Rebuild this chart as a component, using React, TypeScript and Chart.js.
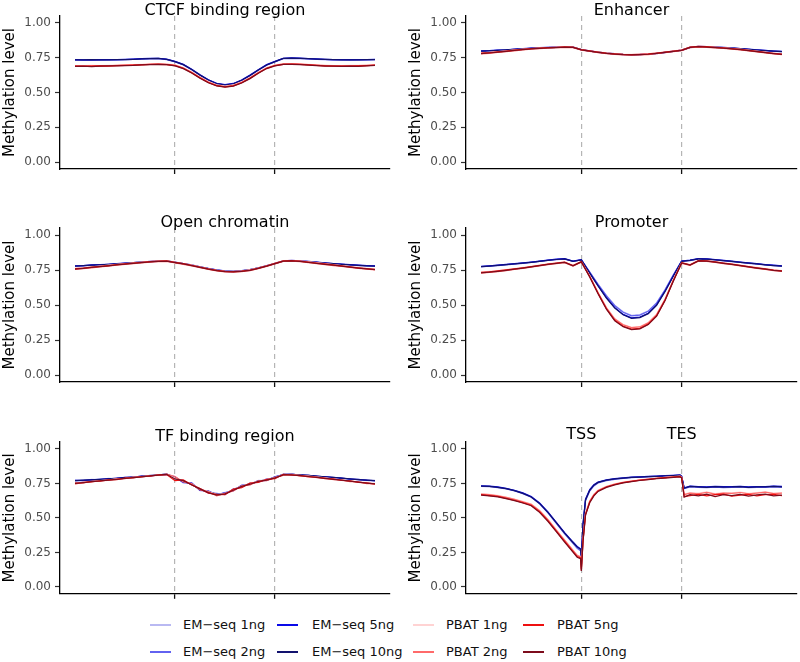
import React, { useEffect, useRef } from "react";
import { Chart, registerables } from "chart.js";

Chart.register(...registerables);

const FONT_FAMILY = "'DejaVu Sans', 'Liberation Sans', Arial, sans-serif";

// ---------- series ----------
const seriesLabels = [
  "EM\u2212seq 1ng", "EM\u2212seq 2ng", "EM\u2212seq 5ng", "EM\u2212seq 10ng",
  "PBAT 1ng", "PBAT 2ng", "PBAT 5ng", "PBAT 10ng",
];
const seriesColors = [
  "#b9b9f2", "#6262f0", "#0a0ae8", "#12126e",
  "#ffd3d3", "#ff6a6a", "#ee1010", "#7d0c1c",
];

// ---------- x positions (bins) ----------
const regionBins = [0, 1, 2, 3, 4, 5, 6, 7, 8, 9, 10, 11, 12, 13, 14, 15, 16, 17, 18, 19, 20, 21, 22, 23, 24, 25, 26, 27, 28, 29, 30, 31, 32, 33, 34, 35, 36];
const geneBins = [0, 1, 2, 3, 4, 5, 6, 7, 8, 9, 10, 11, 11.5, 11.9, 12, 12.2, 12.5, 13, 13.5, 14, 15, 16, 17, 18, 19, 20, 21, 22, 23, 23.8, 24, 24.3, 25, 26, 27, 28, 29, 30, 31, 32, 33, 34, 35, 36];
const boundaryBins = [12, 24];
const geneBoundaryLabels = ["TSS", "TES"];
const yTickValues = [0, 0.25, 0.5, 0.75, 1];
const yAxisTitle = "Methylation level";

// ---------- CTCF binding region ----------
const ctcfEm1 = [.736,.734,.735,.735,.736,.735,.737,.739,.742,.744,.745,.739, .723,.701,.667,.627,.592,.565,.555,.563,.589,.623,.663,.699,.723, .745,.747,.745,.742,.740,.738,.736,.735,.735,.735,.736,.737];
const ctcfEm2 = [.733,.733,.734,.733,.734,.735,.736,.738,.740,.742,.743,.737, .720,.698,.663,.624,.589,.562,.553,.561,.587,.620,.660,.696,.720, .743,.746,.744,.741,.739,.737,.735,.734,.733,.734,.735,.736];
const ctcfEm5 = [.737,.735,.735,.736,.736,.737,.738,.740,.743,.745,.746,.740, .724,.702,.667,.628,.592,.566,.556,.565,.590,.625,.664,.700,.724, .746,.749,.747,.744,.741,.739,.737,.736,.736,.736,.737,.738];
const ctcfEm10 = [.735,.734,.736,.734,.735,.736,.737,.739,.741,.744,.745,.738, .722,.700,.665,.625,.590,.563,.553,.562,.588,.622,.662,.698,.722, .745,.748,.746,.743,.740,.738,.736,.735,.734,.735,.736,.737];
const ctcfPb1 = [.694,.693,.695,.694,.695,.697,.698,.700,.703,.705,.707,.705, .698,.679,.648,.611,.578,.555,.546,.554,.576,.608,.646,.679,.698, .707,.708,.706,.702,.699,.696,.694,.694,.695,.695,.697,.699];
const ctcfPb2 = [.692,.691,.692,.693,.692,.695,.696,.698,.701,.703,.705,.703, .696,.676,.645,.608,.575,.552,.543,.551,.573,.605,.643,.676,.696, .705,.706,.704,.700,.697,.694,.692,.692,.692,.693,.695,.697];
const ctcfPb5 = [.690,.688,.690,.691,.689,.693,.695,.697,.699,.702,.703,.701, .694,.674,.642,.605,.572,.549,.540,.548,.570,.602,.640,.674,.694, .703,.704,.702,.698,.695,.692,.690,.690,.689,.691,.693,.696];
const ctcfPb10 = [.688,.690,.686,.689,.691,.692,.694,.695,.698,.700,.702,.700, .692,.672,.640,.603,.570,.547,.538,.546,.568,.600,.638,.672,.692, .702,.703,.700,.697,.694,.690,.689,.687,.690,.688,.692,.695];

// ---------- Enhancer ----------
const enhEm1 = [.798,.801,.804,.806,.810,.814,.818,.821,.824,.826,.827,.826, .808,.799,.790,.783,.778,.774,.772,.774,.776,.781,.788,.796,.804, .824,.830,.829,.826,.823,.819,.815,.810,.806,.802,.798,.795];
const enhEm2 = [.796,.799,.802,.805,.809,.813,.817,.820,.822,.824,.826,.825, .807,.797,.789,.782,.777,.773,.771,.772,.775,.780,.787,.795,.803, .823,.829,.828,.825,.822,.818,.814,.809,.804,.800,.796,.793];
const enhEm5 = [.799,.801,.805,.807,.811,.815,.819,.822,.824,.826,.828,.827, .809,.799,.791,.784,.779,.775,.773,.774,.777,.782,.789,.797,.805, .825,.831,.830,.827,.824,.820,.816,.811,.806,.802,.798,.795];
const enhEm10 = [.797,.800,.803,.806,.810,.814,.818,.821,.823,.825,.827,.826, .808,.798,.790,.783,.778,.774,.772,.773,.776,.781,.788,.796,.804, .824,.830,.829,.826,.823,.819,.815,.810,.805,.801,.797,.794];
const enhPb1 = [.785,.789,.794,.800,.806,.811,.816,.820,.823,.826,.829,.827, .809,.800,.792,.785,.780,.776,.774,.776,.779,.784,.791,.799,.806, .827,.832,.830,.826,.822,.817,.811,.804,.797,.790,.784,.778];
const enhPb2 = [.778,.781,.788,.794,.800,.806,.811,.815,.819,.822,.824,.823, .804,.795,.787,.780,.774,.770,.768,.770,.773,.779,.786,.794,.801, .822,.827,.825,.821,.817,.812,.806,.799,.792,.785,.778,.772];
const enhPb5 = [.783,.786,.792,.798,.804,.810,.815,.819,.822,.825,.828,.826, .808,.799,.791,.783,.778,.774,.772,.774,.777,.783,.790,.798,.805, .826,.831,.829,.825,.821,.816,.810,.803,.796,.789,.782,.776];
const enhPb10 = [.780,.784,.790,.796,.802,.808,.813,.817,.820,.823,.826,.825, .806,.797,.789,.781,.776,.772,.770,.772,.775,.781,.788,.796,.803, .824,.829,.827,.823,.819,.814,.808,.801,.794,.787,.780,.774];

// ---------- Open chromatin ----------
const openEm1 = [.779,.782,.785,.787,.791,.795,.798,.802,.807,.810,.813,.815, .805,.796,.785,.772,.761,.750,.743,.741,.744,.752,.765,.780,.797, .815,.817,.815,.810,.806,.800,.796,.791,.788,.784,.781,.779];
const openEm2 = [.777,.780,.783,.786,.789,.793,.797,.801,.805,.809,.812,.814, .804,.794,.784,.771,.759,.749,.741,.739,.743,.751,.764,.779,.796, .814,.816,.813,.809,.804,.799,.794,.790,.786,.782,.779,.777];
const openEm5 = [.780,.782,.786,.788,.791,.795,.799,.803,.807,.811,.814,.816, .806,.796,.786,.773,.761,.751,.743,.741,.745,.753,.766,.781,.798, .816,.818,.815,.811,.806,.801,.796,.792,.788,.785,.782,.780];
const openEm10 = [.778,.781,.784,.787,.790,.794,.798,.802,.806,.810,.813,.815, .805,.795,.785,.772,.760,.750,.742,.740,.744,.752,.765,.780,.797, .815,.817,.814,.810,.805,.800,.795,.791,.787,.783,.780,.778];
const openPb1 = [.762,.767,.772,.778,.784,.790,.796,.801,.806,.811,.815,.817, .806,.796,.786,.772,.760,.750,.742,.740,.744,.752,.765,.781,.799, .817,.819,.815,.809,.802,.795,.788,.781,.774,.768,.762,.757];
const openPb2 = [.755,.760,.766,.772,.778,.784,.790,.796,.801,.806,.810,.812, .801,.791,.780,.766,.754,.744,.736,.734,.738,.746,.759,.775,.793, .811,.813,.809,.803,.796,.789,.782,.775,.768,.762,.756,.750];
const openPb5 = [.760,.764,.770,.776,.782,.788,.794,.800,.805,.810,.814,.816, .805,.795,.784,.770,.758,.748,.740,.738,.742,.750,.763,.779,.797, .815,.817,.813,.807,.800,.793,.786,.779,.772,.766,.760,.755];
const openPb10 = [.757,.762,.768,.774,.780,.786,.792,.798,.803,.808,.812,.814, .803,.793,.782,.768,.756,.746,.738,.736,.740,.748,.761,.777,.795, .813,.815,.811,.805,.798,.791,.784,.777,.770,.764,.758,.752];

// ---------- Promoter ----------
const promEm1 = [.775,.779,.784,.789,.794,.800,.806,.813,.820,.826,.830,.813, .823,.737,.650,.568,.498,.451,.426,.431,.458,.516,.609,.716,.815, .819,.831,.829,.824,.818,.812,.806,.800,.794,.788,.783,.779];
const promEm2 = [.773,.777,.782,.787,.792,.798,.804,.811,.818,.824,.828,.811, .822,.735,.648,.565,.495,.448,.423,.428,.455,.513,.606,.713,.813, .817,.829,.827,.822,.816,.810,.804,.798,.792,.786,.781,.777];
const promEm5 = [.776,.780,.785,.790,.795,.801,.807,.814,.821,.827,.831,.814, .824,.730,.639,.553,.481,.433,.408,.413,.441,.501,.598,.708,.814, .820,.832,.830,.825,.819,.813,.807,.801,.795,.789,.784,.780];
const promEm10 = [.774,.778,.783,.788,.793,.799,.805,.812,.819,.825,.829,.812, .822,.728,.636,.550,.478,.430,.405,.410,.438,.498,.595,.705,.812, .818,.830,.828,.823,.817,.811,.805,.799,.793,.787,.782,.778];
const promPb1 = [.735,.740,.746,.753,.760,.768,.776,.785,.794,.801,.808,.784, .811,.708,.591,.483,.403,.361,.341,.346,.375,.434,.542,.679,.804, .789,.818,.816,.809,.801,.793,.785,.776,.768,.760,.752,.746];
const promPb2 = [.728,.733,.739,.746,.754,.762,.770,.779,.788,.796,.803,.778, .806,.706,.588,.480,.400,.358,.338,.343,.372,.431,.539,.676,.798, .783,.813,.811,.804,.796,.788,.779,.770,.762,.754,.746,.740];
const promPb5 = [.733,.737,.744,.751,.758,.766,.774,.783,.792,.800,.807,.782, .810,.702,.583,.473,.391,.348,.328,.333,.363,.423,.533,.673,.802, .787,.817,.815,.808,.800,.792,.783,.774,.766,.758,.750,.744];
const promPb10 = [.730,.735,.741,.748,.756,.764,.772,.781,.790,.798,.805,.780, .808,.700,.580,.470,.388,.345,.325,.330,.360,.420,.530,.670,.800, .785,.815,.813,.806,.798,.790,.781,.772,.764,.756,.748,.742];

// ---------- TF binding region ----------
const tfEm1 = [.773,.770,.779,.777,.786,.785,.794,.794,.804,.804,.813,.815, .800,.752,.755,.698,.698,.665,.685,.695,.738,.740,.772,.770,.800, .812,.818,.809,.810,.800,.800,.790,.790,.780,.780,.771,.772];
const tfEm2 = [.768,.774,.775,.781,.782,.789,.790,.798,.800,.808,.810,.818, .785,.770,.740,.712,.682,.678,.668,.710,.722,.752,.760,.782,.788, .817,.814,.813,.806,.804,.796,.794,.786,.784,.776,.775,.768];
const tfEm5 = [.772,.771,.778,.778,.785,.786,.793,.795,.803,.805,.812,.816, .795,.758,.752,.700,.695,.668,.682,.698,.735,.742,.770,.772,.797, .813,.817,.810,.809,.801,.799,.791,.789,.781,.779,.772,.771];
const tfEm10 = [.770,.773,.776,.779,.783,.787,.791,.796,.801,.806,.811,.817, .790,.765,.745,.705,.688,.672,.675,.705,.728,.748,.765,.778,.792, .815,.816,.812,.808,.803,.798,.793,.788,.783,.778,.774,.770];
const tfPb1 = [.755,.758,.763,.770,.775,.782,.787,.794,.799,.806,.811,.817, .788,.770,.745,.712,.690,.670,.676,.706,.730,.750,.766,.779,.792, .815,.815,.809,.803,.797,.790,.783,.776,.769,.762,.755,.750];
const tfPb2 = [.745,.759,.760,.771,.772,.783,.784,.795,.796,.807,.808,.818, .800,.760,.748,.702,.690,.660,.678,.696,.732,.740,.768,.770,.794, .808,.815,.803,.802,.791,.790,.777,.776,.763,.762,.749,.748];
const tfPb5 = [.752,.753,.765,.766,.776,.778,.789,.790,.800,.802,.812,.814, .770,.775,.738,.712,.680,.670,.668,.708,.720,.752,.758,.780,.784, .816,.810,.808,.798,.796,.785,.782,.771,.768,.757,.754,.744];
const tfPb10 = [.750,.756,.762,.768,.774,.780,.786,.792,.798,.804,.810,.816, .782,.770,.740,.710,.683,.665,.674,.700,.728,.744,.764,.773,.790, .812,.812,.806,.800,.794,.787,.780,.773,.766,.759,.752,.746];

// ---------- Gene body (TSS -> TES) ----------
const geneEm1 = [.731,.729,.723,.713,.698,.680,.654,.606,.541,.467,.392,.324, .292,.274,.218,.452,.632,.702,.738,.758, .774,.783,.789,.794,.797,.800,.802,.805,.808, .810,.801,.716, .729,.726,.723,.727,.724,.725,.728,.723,.726,.725,.729,.726];
const geneEm2 = [.728,.726,.720,.710,.695,.676,.650,.602,.536,.460,.385,.315, .280,.262,.205,.440,.625,.695,.732,.753, .770,.780,.786,.791,.795,.798,.800,.803,.806, .807,.798,.712, .725,.722,.720,.723,.720,.722,.724,.720,.722,.722,.725,.722];
const geneEm5 = [.732,.730,.724,.714,.700,.681,.655,.608,.543,.468,.393,.325, .293,.275,.220,.455,.635,.705,.740,.760, .775,.785,.790,.795,.798,.801,.803,.806,.809, .811,.802,.718, .730,.727,.725,.728,.726,.727,.729,.725,.727,.727,.730,.728];
const geneEm10 = [.730,.728,.722,.712,.697,.678,.652,.605,.540,.465,.390,.322, .290,.272,.215,.450,.630,.700,.737,.757, .773,.782,.788,.793,.796,.799,.801,.804,.807, .809,.800,.715, .728,.725,.722,.726,.723,.724,.727,.722,.725,.724,.728,.725];
const genePb1 = [.675,.670,.663,.651,.637,.620,.601,.555,.491,.415,.341,.267, .231,.221,.135,.345,.535,.625,.672,.702, .728,.746,.759,.768,.776,.783,.789,.794,.799, .803,.796,.672, .684,.679,.688,.676,.684,.681,.687,.678,.684,.689,.680,.682];
const genePb2 = [.672,.668,.660,.648,.634,.617,.598,.552,.488,.412,.338,.264, .228,.218,.130,.340,.530,.620,.668,.699, .726,.744,.757,.766,.774,.781,.787,.792,.797, .801,.794,.668, .680,.675,.685,.672,.680,.678,.684,.674,.680,.686,.676,.679];
const genePb5 = [.668,.662,.656,.642,.628,.610,.592,.544,.480,.404,.330,.256, .220,.210,.120,.335,.525,.615,.664,.695, .724,.742,.755,.765,.773,.780,.786,.791,.796, .800,.792,.655, .662,.670,.660,.668,.673,.657,.665,.670,.660,.668,.671,.662];
const genePb10 = [.665,.660,.652,.640,.625,.608,.588,.540,.475,.400,.325,.252, .215,.205,.115,.330,.520,.610,.660,.692, .721,.740,.753,.763,.771,.778,.784,.789,.794, .798,.790,.650, .668,.660,.672,.655,.668,.662,.670,.658,.666,.672,.660,.665];

// ---------- panels ----------
const panels = [
  { key: "ctcf", title: "CTCF binding region", bins: regionBins, col: 0, row: 0,
    series: [ctcfEm1, ctcfEm2, ctcfEm5, ctcfEm10, ctcfPb1, ctcfPb2, ctcfPb5, ctcfPb10] },
  { key: "enh", title: "Enhancer", bins: regionBins, col: 1, row: 0,
    series: [enhEm1, enhEm2, enhEm5, enhEm10, enhPb1, enhPb2, enhPb5, enhPb10] },
  { key: "open", title: "Open chromatin", bins: regionBins, col: 0, row: 1,
    series: [openEm1, openEm2, openEm5, openEm10, openPb1, openPb2, openPb5, openPb10] },
  { key: "prom", title: "Promoter", bins: regionBins, col: 1, row: 1,
    series: [promEm1, promEm2, promEm5, promEm10, promPb1, promPb2, promPb5, promPb10] },
  { key: "tf", title: "TF binding region", bins: regionBins, col: 0, row: 2,
    series: [tfEm1, tfEm2, tfEm5, tfEm10, tfPb1, tfPb2, tfPb5, tfPb10] },
  { key: "gene", title: "", topLabels: geneBoundaryLabels, bins: geneBins, col: 1, row: 2,
    series: [geneEm1, geneEm2, geneEm5, geneEm10, genePb1, genePb2, genePb5, genePb10] },
];

// ---------- layout (pixels) ----------
const COLS = [
  { left: 0, width: 400, padRight: 10 },
  { left: 406, width: 394, padRight: 3 },
];
const ROWS = [
  { top: 0, height: 185, plotTop: 16, plotBottom: 169 },
  { top: 195, height: 200, plotTop: 228, plotBottom: 382 },
  { top: 400, height: 205, plotTop: 442, plotBottom: 595 },
];
const Y_AXIS_WIDTH = 60;
const LEGEND_ROWS = [625, 652];
const LEGEND_COLS = [
  { line: 150, text: 183 },
  { line: 277, text: 312 },
  { line: 413, text: 446 },
  { line: 523, text: 557 },
];

function PanelChart({ panel }: { panel: any }) {
  const ref = useRef<HTMLCanvasElement | null>(null);
  const col = COLS[panel.col];
  const row = ROWS[panel.row];

  useEffect(() => {
    const canvas = ref.current;
    if (!canvas) return;
    const lastBin = panel.bins[panel.bins.length - 1];
    const firstBin = panel.bins[0];
    const span = lastBin - firstBin;
    const xMin = firstBin - 0.05 * span;
    const xMax = lastBin + 0.05 * span;
    const topH = row.plotTop - row.top;
    const bottomH = row.top + row.height - row.plotBottom;
    const hasTop = !!panel.topLabels;
    const n = panel.series.length;

    const datasets = panel.series.map((vals: number[], k: number) => ({
      label: seriesLabels[k],
      data: vals.map((v, i) => ({ x: panel.bins[i], y: v })),
      borderColor: seriesColors[k],
      backgroundColor: seriesColors[k],
      borderWidth: 1.25,
      pointRadius: 0,
      pointHoverRadius: 0,
      fill: false,
      tension: 0,
      order: n - 1 - k, // later series drawn on top
    }));

    const chart = new Chart(canvas, {
      type: "line",
      data: { datasets },
      options: {
        responsive: false,
        maintainAspectRatio: false,
        animation: false,
        events: [],
        layout: { padding: { left: 0, right: col.padRight, top: 0, bottom: 0 } },
        plugins: {
          legend: { display: false },
          tooltip: { enabled: false },
          title: { display: false },
        },
        scales: {
          x: {
            type: "linear",
            position: "bottom",
            min: xMin,
            max: xMax,
            afterBuildTicks: (s: any) => { s.ticks = boundaryBins.map((v) => ({ value: v })); },
            afterFit: (s: any) => { s.height = bottomH; },
            ticks: { display: false },
            grid: {
              display: true,
              drawOnChartArea: true,
              drawTicks: true,
              tickLength: 5,
              color: "#b5b5b5",
              lineWidth: 1.2,
              tickColor: "#111111",
              tickWidth: 1.3,
            },
            border: { display: true, color: "#000000", width: 1.3, dash: [5, 4] },
          },
          xTop: {
            type: "linear",
            position: "top",
            min: xMin,
            max: xMax,
            afterBuildTicks: (s: any) => { s.ticks = boundaryBins.map((v) => ({ value: v })); },
            afterFit: (s: any) => { s.height = topH; },
            grid: { display: false, drawTicks: false, tickLength: 0 },
            border: { display: false },
            ticks: {
              display: hasTop,
              padding: 0,
              color: "#000000",
              font: { family: FONT_FAMILY, size: 16, lineHeight: 0.85 },
              callback: (v: any) => {
                const idx = boundaryBins.indexOf(Number(v));
                return hasTop && idx >= 0 ? panel.topLabels[idx] : "";
              },
            },
            title: {
              display: !!panel.title,
              text: panel.title,
              color: "#000000",
              font: { family: FONT_FAMILY, size: 16, lineHeight: 1 },
              padding: { top: Math.max(0, topH - 13.5), bottom: 0 },
            },
          },
          y: {
            type: "linear",
            min: -0.05,
            max: 1.05,
            afterBuildTicks: (s: any) => { s.ticks = yTickValues.map((v) => ({ value: v })); },
            afterFit: (s: any) => { s.width = Y_AXIS_WIDTH; },
            ticks: {
              padding: 4,
              color: "#4d4d4d",
              font: { family: FONT_FAMILY, size: 12 },
              callback: (v: any) => Number(v).toFixed(2),
            },
            grid: {
              display: true,
              drawOnChartArea: false,
              drawTicks: true,
              tickLength: 5,
              tickColor: "#333333",
              tickWidth: 1.2,
            },
            border: { display: true, color: "#000000", width: 1.3 },
            title: {
              display: true,
              text: yAxisTitle,
              color: "#000000",
              font: { family: FONT_FAMILY, size: 15, lineHeight: 1.2 },
              padding: { top: 1, bottom: 0 },
            },
          },
        },
      } as any,
    });
    return () => chart.destroy();
  }, [panel]);

  return (
    <canvas
      ref={ref}
      width={col.width}
      height={row.height}
      style={{ position: "absolute", left: col.left, top: row.top, width: col.width, height: row.height }}
    />
  );
}

function Legend() {
  const items = seriesLabels.map((label, k) => {
    const c = LEGEND_COLS[Math.floor(k / 2)];
    const y = LEGEND_ROWS[k % 2];
    return (
      <React.Fragment key={label}>
        <div style={{ position: "absolute", left: c.line, top: y - 1, width: 21, height: 2, background: seriesColors[k] }} />
        <div style={{ position: "absolute", left: c.text, top: y - 9, height: 18, lineHeight: "18px", fontFamily: FONT_FAMILY, fontSize: 13, color: "#111111", whiteSpace: "nowrap" }}>
          {label}
        </div>
      </React.Fragment>
    );
  });
  return <>{items}</>;
}

export default function App() {
  return (
    <div style={{ position: "fixed", left: 0, top: 0, width: 800, height: 662, background: "#ffffff", overflow: "hidden" }}>
      {panels.map((p) => (
        <PanelChart key={p.key} panel={p} />
      ))}
      <Legend />
    </div>
  );
}
